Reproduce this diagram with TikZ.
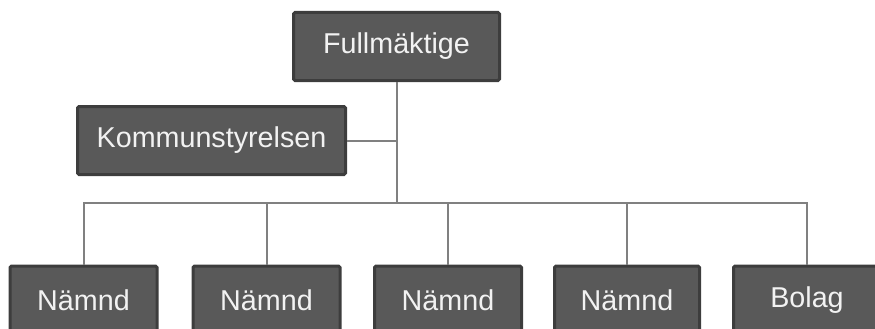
\documentclass[tikz,border=0pt]{standalone}
\usepackage{fontspec}
\setmainfont{Liberation Sans}
\usepackage{tikz}
\usetikzlibrary{calc}
\definecolor{boxfill}{HTML}{595959}
\definecolor{boxedge}{HTML}{3D3D3D}
\definecolor{linkgray}{HTML}{808080}
\definecolor{boxtext}{HTML}{F2F2F2}
\tikzset{
  orgbox/.style={rectangle,rounded corners=1.5pt,fill=boxfill,draw=boxedge,
    line width=3pt,text=boxtext,minimum height=68pt,inner sep=0pt,
    font=\fontsize{28.7}{30}\selectfont},
  link/.style={draw=linkgray,line width=2pt}
}
\begin{document}
\begin{tikzpicture}[x=1pt,y=-1pt]
  \useasboundingbox (0,0) rectangle (875,329);
  % top of the tree
  \node (full) at (396.5,46.5)[orgbox,minimum width=206pt]{Fullmäktige};
  \node (kom) at (211.5,140.5)[orgbox,minimum width=268pt]{Kommunstyrelsen};
  \coordinate (bus) at (396.5,203);
  % bottom row
  \node (n1) at (83.5,300)[orgbox,minimum width=147pt]{Nämnd};
  \node (n2) at (266.5,300)[orgbox,minimum width=147pt]{Nämnd};
  \node (n3) at (448,300)[orgbox,minimum width=147pt]{Nämnd};
  \node (n4) at (627,300)[orgbox,minimum width=145pt]{Nämnd};
  \node (bol) at (807,300)[orgbox,minimum width=147pt]{Bolag};
  % connectors
  \draw [link] (full.south) -- (bus);
  \draw [link] (kom.east) -- (kom.east -| bus);
  \foreach \c in {n1,n2,n3,n4,bol}
    \draw [link] (\c.north) |- (bus);
\end{tikzpicture}
\end{document}
